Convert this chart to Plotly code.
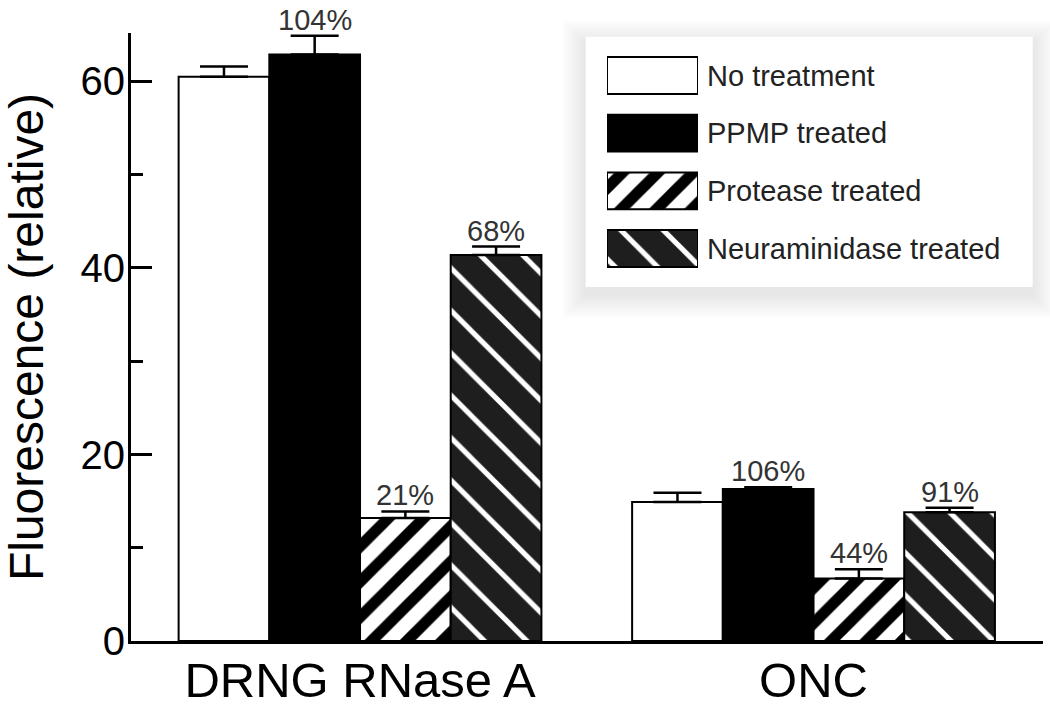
import plotly.graph_objects as go

# ---------------- data ----------------
categories = ["DRNG RNase A", "ONC"]
series_names = ["No treatment", "PPMP treated", "Protease treated", "Neuraminidase treated"]

no_treatment = [60.5, 14.9]
ppmp_treated = [62.9, 16.3]
protease_treated = [13.2, 6.7]
neuraminidase_treated = [41.4, 13.8]

no_treatment_err = [1.1, 1.0]
ppmp_treated_err = [2.0, 0.2]
protease_treated_err = [0.7, 1.0]
neuraminidase_treated_err = [0.9, 0.5]

no_treatment_pct = ["", ""]
ppmp_treated_pct = ["104%", "106%"]
protease_treated_pct = ["21%", "44%"]
neuraminidase_treated_pct = ["68%", "91%"]

y_ticks = [0, 20, 40, 60]

values = [no_treatment, ppmp_treated, protease_treated, neuraminidase_treated]
errors = [no_treatment_err, ppmp_treated_err, protease_treated_err, neuraminidase_treated_err]
pcts = [no_treatment_pct, ppmp_treated_pct, protease_treated_pct, neuraminidase_treated_pct]

# ---------------- styles ----------------
FONT = "Liberation Sans, Arial, Helvetica, sans-serif"
markers = [
    dict(color="white", line=dict(color="black", width=2)),
    dict(color="black", line=dict(color="black", width=2)),
    dict(color="white", line=dict(color="black", width=2),
         pattern=dict(shape="/", bgcolor="white", fgcolor="black", fgopacity=1,
                      size=25, solidity=0.45)),
    dict(color="#1e1e1e", line=dict(color="black", width=2),
         pattern=dict(shape="\\", bgcolor="#1e1e1e", fgcolor="white", fgopacity=1,
                      size=30, solidity=0.17)),
]

W, H = 1050, 710
L, R, T, B = 131, 7, 33, 69
PW, PH = W - L - R, H - T - B


def px_x(px):
    return (px - L) / PW


def px_y(py):
    return (H - B - py) / PH


fig = go.Figure()

group_idx = list(range(len(categories)))
bar_w = 0.2
n = len(series_names)
annotations = []
for i, name in enumerate(series_names):
    off = -bar_w * n / 2 + i * bar_w
    fig.add_trace(go.Bar(
        x=group_idx, y=values[i], width=bar_w, offset=off, name=name,
        marker=markers[i], showlegend=False,
        error_y=dict(type="data", symmetric=False, array=errors[i],
                     arrayminus=[0] * len(categories), color="black",
                     thickness=2.5, width=24),
    ))
    for g in group_idx:
        if pcts[i][g]:
            annotations.append(dict(
                x=g + off + bar_w / 2, y=values[i][g] + errors[i][g],
                xref="x", yref="y", text=pcts[i][g], showarrow=False,
                yanchor="bottom", yshift=-2,
                font=dict(family=FONT, size=29, color="#333333")))

# ---------------- legend (inset subplot) ----------------
for i, name in enumerate(series_names):
    fig.add_trace(go.Bar(
        x=[1], y=[name], orientation="h", width=0.64, base=0,
        marker=markers[i], showlegend=False, hoverinfo="skip",
        xaxis="x2", yaxis="y2",
    ))

box = (585.7, 36.7, 1032.7, 287.0)
shapes = []
for k in range(12, 0, -1):
    e = 2.0 * k
    dy = 7
    shapes.append(dict(
        type="rect", xref="paper", yref="paper", layer="below",
        x0=px_x(box[0] - e), x1=px_x(box[2] + e),
        y0=px_y(box[3] + e + dy), y1=px_y(box[1] - e + dy),
        line=dict(width=0), fillcolor="rgba(0,0,0,0.009)"))
shapes.append(dict(
    type="rect", xref="paper", yref="paper", layer="below",
    x0=px_x(box[0]), x1=px_x(box[2]), y0=px_y(box[3]), y1=px_y(box[1]),
    line=dict(width=0), fillcolor="white"))

fig.update_layout(
    width=W, height=H,
    margin=dict(l=L, r=R, t=T, b=B, pad=0, autoexpand=False),
    paper_bgcolor="white", plot_bgcolor="rgba(0,0,0,0)",
    barmode="overlay",
    font=dict(family=FONT, color="black"),
    showlegend=False,
    xaxis=dict(
        range=[-0.505, 1.506], tickmode="array", tickvals=group_idx, ticktext=categories,
        ticks="", showline=True, linewidth=3, linecolor="black",
        showgrid=False, zeroline=False, automargin=False, ticklabelstandoff=-6,
        tickfont=dict(family=FONT, size=49, color="black"),
    ),
    yaxis=dict(
        range=[0, 65.2], tickmode="array", tickvals=y_ticks,
        ticks="inside", ticklen=21, tickwidth=2.5, tickcolor="black",
        showline=True, linewidth=3, linecolor="black",
        showgrid=False, zeroline=False, automargin=False, ticklabelstandoff=-5,
        tickfont=dict(family=FONT, size=40, color="black"),
        minor=dict(ticks="inside", ticklen=12, tickwidth=2.5, tickcolor="black",
                   dtick=10, tick0=0, showgrid=False),
        title=dict(text="Fluorescence (relative)", standoff=27,
                   font=dict(family=FONT, size=48, color="black")),
    ),
    xaxis2=dict(domain=[px_x(607), px_x(698)], range=[0, 1], anchor="y2",
                visible=False, fixedrange=True),
    yaxis2=dict(domain=[px_y(277.4), px_y(46.6)], anchor="x2", side="right",
                type="category", categoryorder="array", categoryarray=series_names,
                range=[3.5, -0.5], showline=False, ticks="", showgrid=False,
                zeroline=False, ticklabelstandoff=8, automargin=False,
                tickfont=dict(family=FONT, size=29, color="#222222")),
    annotations=annotations,
    shapes=shapes,
)

fig.write_html("out.html", config={"displayModeBar": False},
               post_script="document.body.style.margin='0';")
